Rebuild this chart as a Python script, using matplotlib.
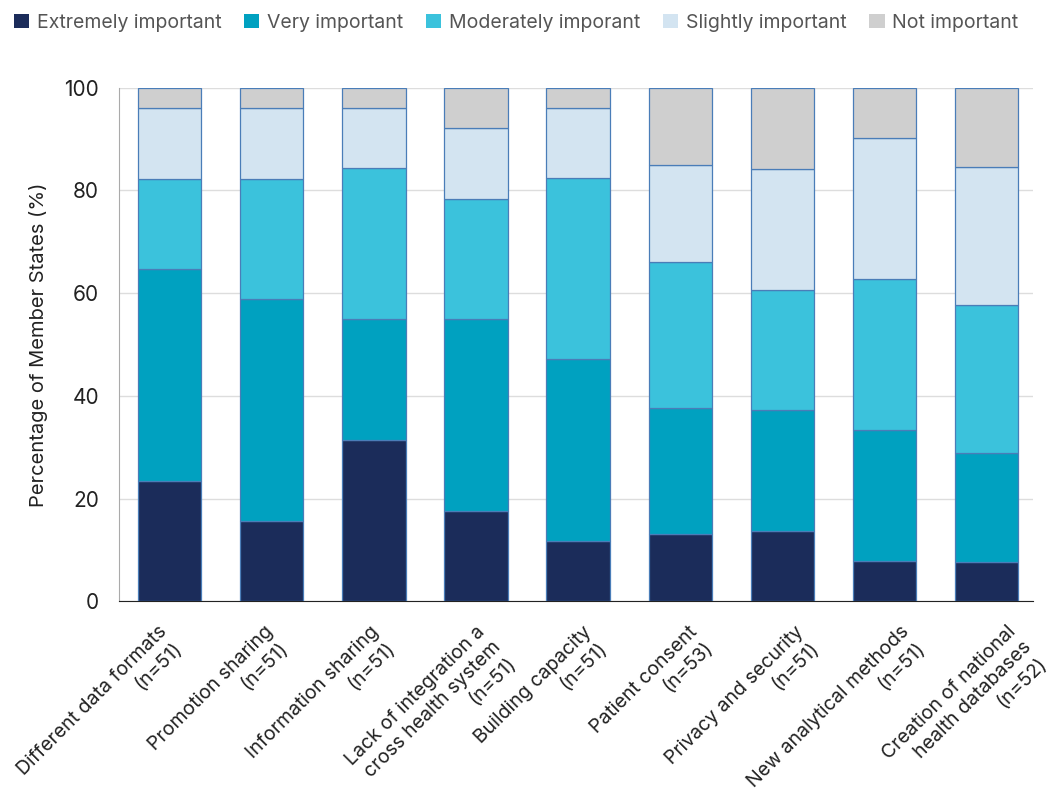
import matplotlib
matplotlib.use("Agg")
import matplotlib.pyplot as plt
import matplotlib.transforms as mtransforms
import numpy as np

plt.rcParams['font.family'] = ['Inter', 'DejaVu Sans']

# Survey responses as percentage of Member States
categories = [
    "Different data formats\n(n=51)",
    "Promotion sharing\n(n=51)",
    "Information sharing\n(n=51)",
    "Lack of integration a\ncross health system\n(n=51)",
    "Building capacity\n(n=51)",
    "Patient consent\n(n=53)",
    "Privacy and security\n(n=51)",
    "New analytical methods\n(n=51)",
    "Creation of national\nhealth databases\n(n=52)",
]
extremely = [23.5, 15.7, 31.4, 17.6, 11.8, 13.2, 13.7, 7.8, 7.7]
very = [41.2, 43.1, 23.5, 37.3, 35.3, 24.5, 23.5, 25.5, 21.2]
moderately = [17.6, 23.5, 29.4, 23.5, 35.3, 28.3, 23.5, 29.4, 28.8]
slightly = [13.7, 13.7, 11.8, 13.7, 13.7, 18.9, 23.5, 27.5, 26.9]
not_imp = [3.9, 3.9, 3.9, 7.8, 3.9, 15.1, 15.7, 9.8, 15.4]

series_names = ["Extremely important", "Very important", "Moderately imporant",
                "Slightly important", "Not important"]
colors = ["#1b2c5a", "#00a1c0", "#3bc2dc", "#d3e4f1", "#cfcfcf"]

fig = plt.figure(figsize=(10.59, 8.05), dpi=100)
ax = fig.add_axes([0.112, 0.253, 0.863, 0.638])

x = np.arange(len(categories))
bottom = np.zeros(len(categories))
for vals, name, c in zip([extremely, very, moderately, slightly, not_imp], series_names, colors):
    ax.bar(x, vals, 0.62, bottom=bottom, color=c, edgecolor="#4a7db8",
           linewidth=0.9, label=name, zorder=3)
    bottom += np.array(vals)

ax.set_ylim(0, 100)
ax.set_xlim(-0.5, 8.45)
ax.set_yticks([0, 20, 40, 60, 80, 100])
ax.yaxis.grid(True, color="#dddddd", linewidth=1, zorder=0)
ax.tick_params(axis='y', labelsize=15, length=0, pad=14, colors="#222222")
ax.tick_params(axis='x', length=0, pad=6)
ax.set_xticks(x)
ax.set_xticklabels(categories, rotation=45, ha='right', rotation_mode='anchor',
                   fontsize=14, color="#222222", multialignment='right', linespacing=1.3)
# labels drift a little to the right of the bars in the original
for i, lbl in enumerate(ax.get_xticklabels()):
    off = mtransforms.ScaledTranslation((-12 + 4 * i) / 100, -13 / 100, fig.dpi_scale_trans)
    lbl.set_transform(lbl.get_transform() + off)
ax.set_ylabel("Percentage of Member States (%)", fontsize=14.5, color="#222222", labelpad=12)

for s in ["top", "right"]:
    ax.spines[s].set_visible(False)
ax.spines["left"].set_color("#aaaaaa")
ax.spines["bottom"].set_color("#222222")

leg = fig.legend(loc="upper left", bbox_to_anchor=(0.0, 1.0), ncol=5, frameon=False,
                 fontsize=14, handlelength=0.8, handleheight=0.8, handletextpad=0.4,
                 columnspacing=1.15, borderaxespad=0.3)
for h in leg.legend_handles:
    h.set_edgecolor("none")
for t in leg.get_texts():
    t.set_color("#555555")

fig.savefig("out.png", dpi=100)
